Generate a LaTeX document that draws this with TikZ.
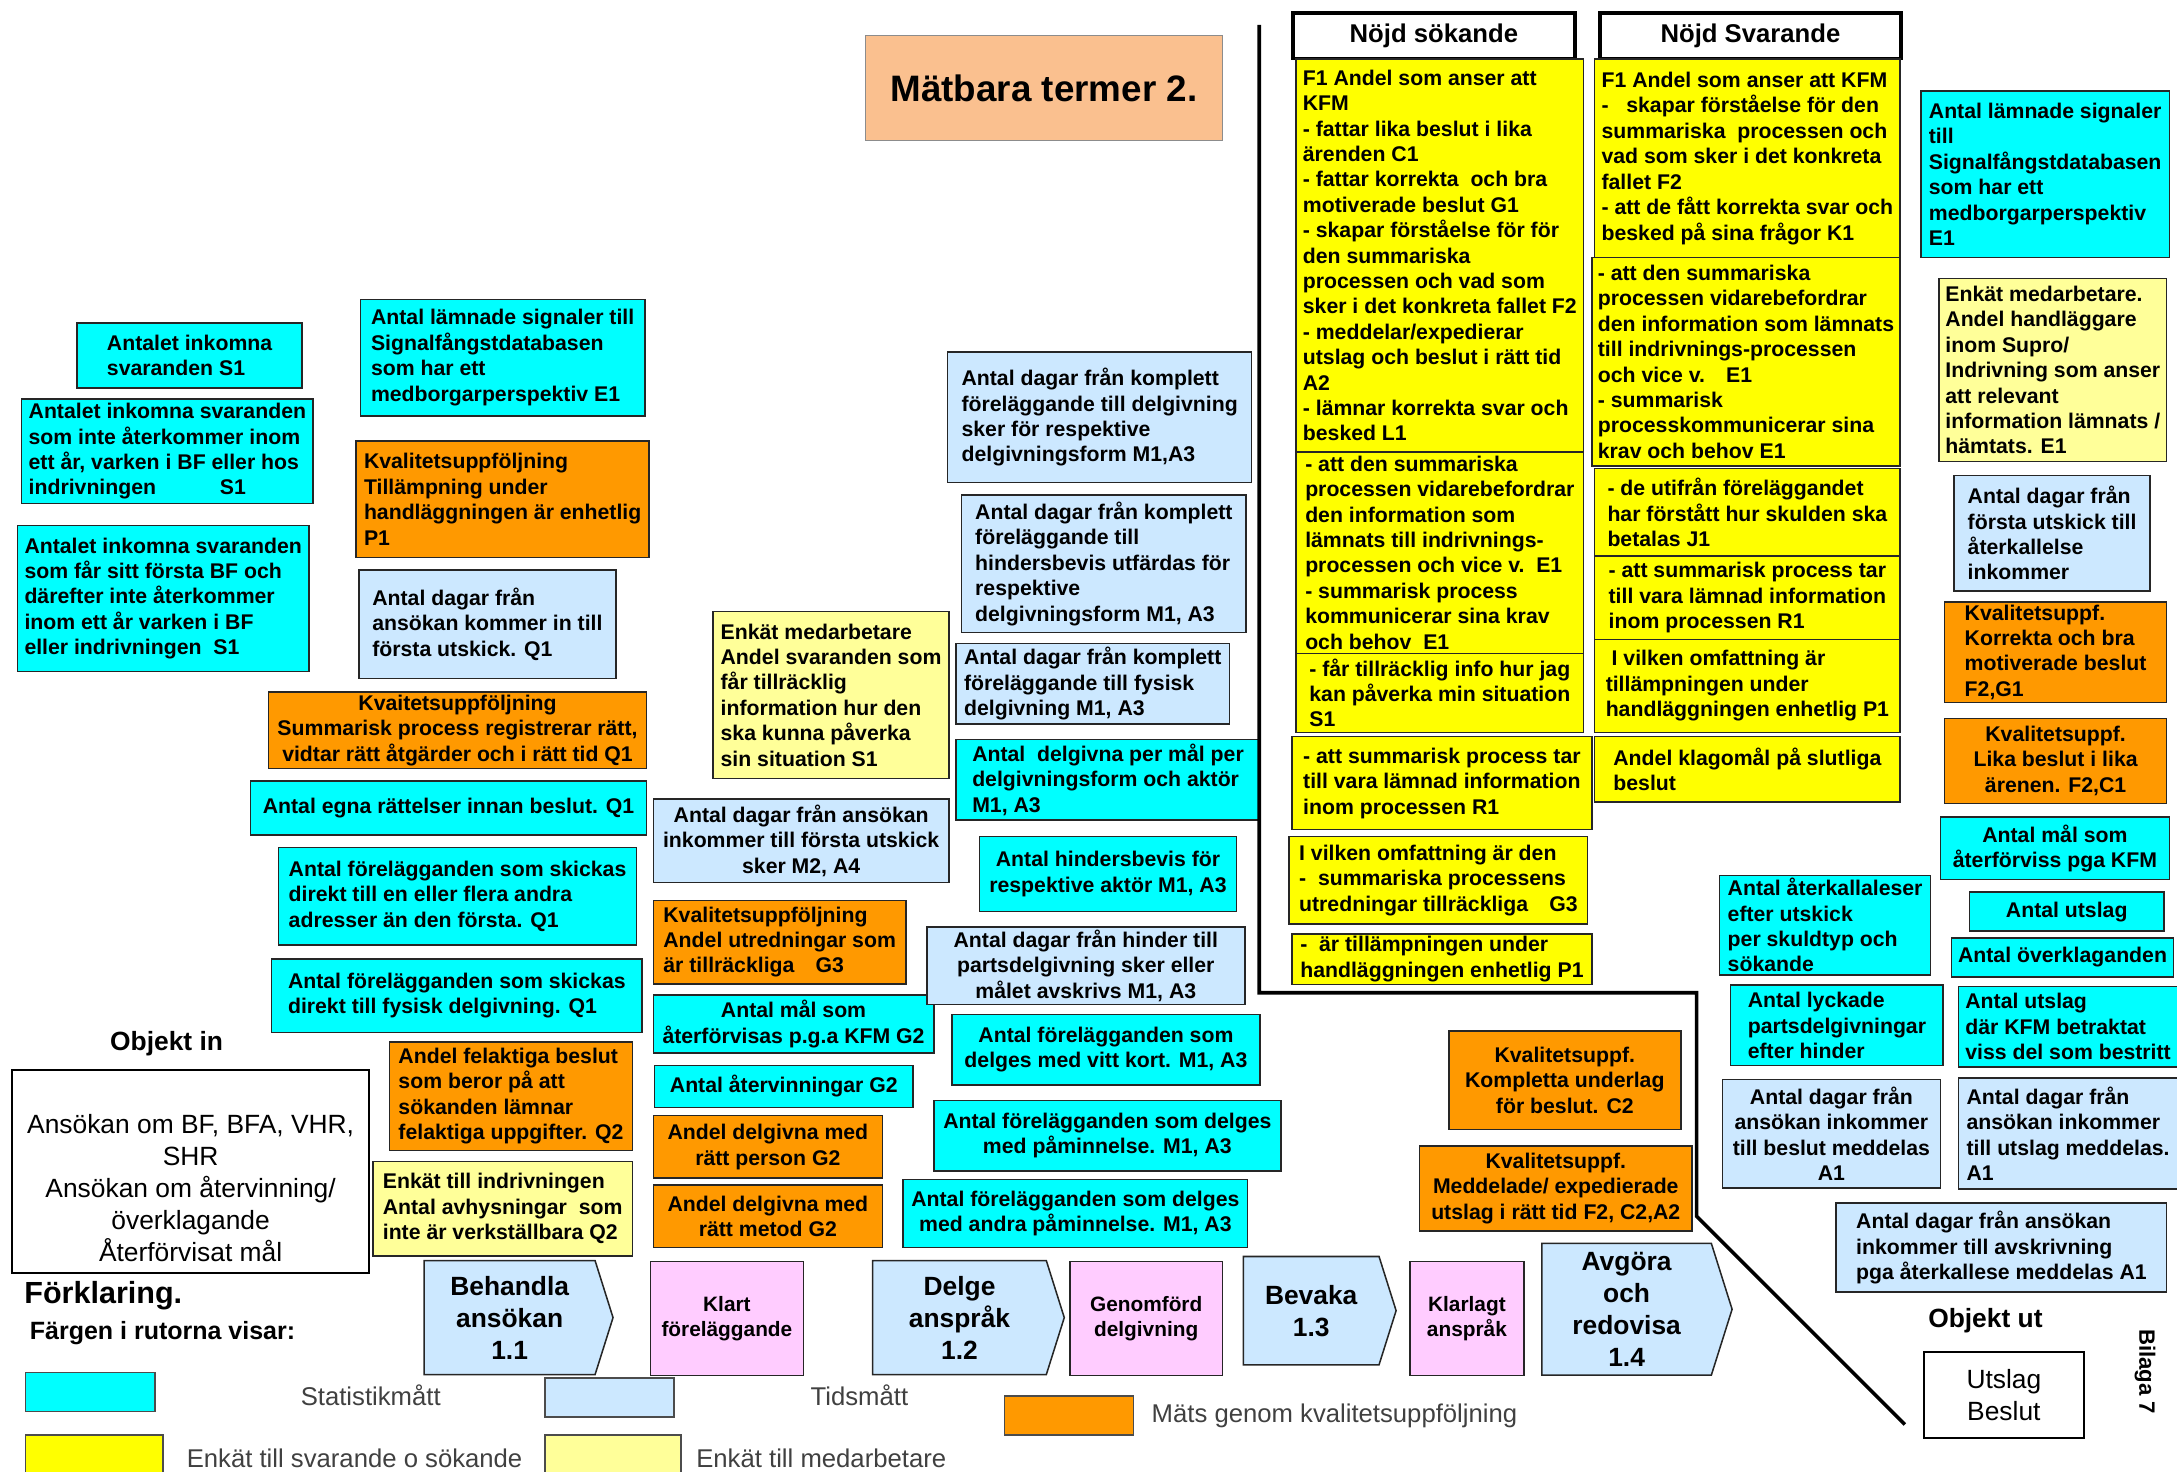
\documentclass[tikz,border=0pt]{standalone}
\usepackage{fontspec}
\setmainfont{Liberation Sans}
\usetikzlibrary{shapes.symbols}
\definecolor{statc}{RGB}{0,255,255}
\definecolor{tidc}{RGB}{204,232,255}
\definecolor{kvalc}{RGB}{255,153,0}
\definecolor{enkc}{RGB}{255,255,0}
\definecolor{enkmc}{RGB}{255,255,153}
\definecolor{pinkc}{RGB}{255,204,255}
\definecolor{peachc}{RGB}{250,192,143}
\begin{document}
\begin{tikzpicture}[x=1pt,y=-1pt]

\tikzset{mbox/.style = {draw=black!85, line width=1.1pt, anchor=north west, inner sep=2pt, align=left, font=\bfseries\fontsize{15.3}{18.3}\selectfont}}
\tikzset{wh/.style 2 args = {minimum width=#1pt, minimum height=#2pt}}
\tikzset{stat/.style = {mbox, fill=statc}}
\tikzset{tid/.style = {mbox, fill=tidc}}
\tikzset{kval/.style = {mbox, fill=kvalc}}
\tikzset{enk/.style = {mbox, fill=enkc}}
\tikzset{enkm/.style = {mbox, fill=enkmc}}
\tikzset{proc/.style = {shape=signal, signal to=east, signal pointer angle=145, draw=black!85, line width=1.1pt, fill=tidc, anchor=west, align=center, inner sep=1pt, font=\bfseries\fontsize{19}{23}\selectfont}}
\tikzset{res/.style = {mbox, fill=pinkc, align=center, font=\bfseries\fontsize{15}{18}\selectfont}}
\tikzset{head/.style = {draw, line width=2.5pt, fill=white, anchor=north west, inner sep=0pt, font=\bfseries\fontsize{18.5}{20}\selectfont}}
\tikzset{obj/.style = {draw, line width=1.6pt, fill=white, anchor=north west, align=center, font=\fontsize{19}{23}\selectfont}}
\tikzset{lbl/.style = {font=\bfseries\fontsize{19}{22}\selectfont}}
\tikzset{leg/.style = {text=black!75, font=\fontsize{18.5}{22}\selectfont}}
\tikzset{swatch/.style = {draw=black!70, line width=1pt, anchor=north west, minimum width=93pt, minimum height=28pt, inner sep=0pt}}

\useasboundingbox (0,0) rectangle (1568,1060);

% title
\node[draw=black!45, line width=0.8pt, fill=peachc, anchor=north west, minimum width=257pt, minimum height=76pt, font=\bfseries\fontsize{26.5}{30}\selectfont] (title) at (623,25) {Mätbara termer 2.};

% left boxes
\node[stat, wh={162}{47}] (s1) at (55,232) {Antalet inkomna\\svaranden S1};
\node[stat, wh={210}{75}] (s2) at (15,287) {Antalet inkomna svaranden\\som inte återkommer inom\\ett år, varken i BF eller hos\\indrivningen\hspace{3em}S1};
\node[stat, wh={210}{105}] (s3) at (12,378) {Antalet inkomna svaranden\\som får sitt första BF och\\därefter inte återkommer\\inom ett år varken i BF\\eller indrivningen\ \ S1};
\node[stat, wh={205}{84}] (e1a) at (259,215) {Antal lämnade signaler till\\Signalfångstdatabasen\\som har ett\\medborgarperspektiv E1};
\node[kval, wh={211}{84}] (p1a) at (256,317) {Kvalitetsuppföljning\\Tillämpning under\\handläggningen är enhetlig\\P1};
\node[tid, wh={185}{78}] (q1t) at (258,410) {Antal dagar från\\ansökan kommer in till\\första utskick. Q1};
\node[kval, wh={272}{55}, align=center] (q1k) at (193,498) {Kvaitetsuppföljning\\Summarisk process registrerar rätt,\\vidtar rätt åtgärder och i rätt tid Q1};
\node[stat, wh={285}{39}] (q1a) at (180,562) {Antal egna rättelser innan beslut. Q1};
\node[stat, wh={258}{70}] (q1b) at (200,610) {Antal förelägganden som skickas\\direkt till en eller flera andra\\adresser än den första. Q1};
\node[stat, wh={267}{53}] (q1c) at (195,690) {Antal förelägganden som skickas\\direkt till fysisk delgivning. Q1};
\node[kval, wh={175}{78}] (q2k) at (280,750) {Andel felaktiga beslut\\som beror på att\\sökanden lämnar\\felaktiga uppgifter. Q2};
\node[enkm, wh={187}{68}] (q2e) at (268,836) {Enkät till indrivningen\\Antal avhysningar\ \ som\\inte är verkställbara Q2};

% middle boxes
\node[enkm, wh={170}{120}] (s1e) at (513,440) {Enkät medarbetare\\Andel svaranden som\\får tillräcklig\\information hur den\\ska kunna påverka\\sin situation S1};
\node[tid, wh={213}{60}, align=center] (m2t) at (470,575) {Antal dagar från ansökan\\inkommer till första utskick\\sker M2, A4};
\node[kval, wh={182}{60}] (g3k) at (470,648) {Kvalitetsuppföljning\\Andel utredningar som\\är tillräckliga\hspace{1em}G3};
\node[stat, wh={202}{42}, align=center] (g2a) at (470,716) {Antal mål som\\återförvisas p.g.a KFM G2};
\node[stat, wh={186}{30}, align=center] (g2b) at (471,767) {Antal återvinningar G2};
\node[kval, wh={165}{45}, align=center] (g2c) at (470,803) {Andel delgivna med\\rätt person G2};
\node[kval, wh={165}{45}, align=center] (g2d) at (470,853) {Andel delgivna med\\rätt metod G2};
\node[tid, wh={219}{94}] (m1a) at (682,253) {Antal dagar från komplett\\föreläggande till delgivning\\sker för respektive\\delgivningsform M1,A3};
\node[tid, wh={205}{99}] (m1b) at (692,356) {Antal dagar från komplett\\föreläggande till\\hindersbevis utfärdas för\\respektive\\delgivningsform M1, A3};
\node[tid, wh={197}{58}] (m1c) at (688,463) {Antal dagar från komplett\\föreläggande till fysisk\\delgivning M1, A3};
\node[stat, wh={219}{58}] (m1d) at (688,532) {Antal\ \ delgivna per mål per\\delgivningsform och aktör\\M1, A3};
\node[stat, wh={185}{54}, align=center] (m1e) at (705,602) {Antal hindersbevis för\\respektive aktör M1, A3};
\node[tid, wh={229}{56}, align=center] (m1f) at (667,667) {Antal dagar från hinder till\\partsdelgivning sker eller\\målet avskrivs M1, A3};
\node[stat, wh={222}{51}, align=center] (m1g) at (685,730) {Antal förelägganden som\\delges med vitt kort. M1, A3};
\node[stat, wh={250}{51}, align=center] (m1h) at (672,792) {Antal förelägganden som delges\\med påminnelse. M1, A3};
\node[stat, wh={248}{49}, align=center] (m1i) at (650,849) {Antal förelägganden som delges\\med andra påminnelse. M1, A3};

% Nöjd sökande
\node[head, wh={203}{33}] (hs) at (930,8) {Nöjd sökande};
\node[enk, wh={207}{283}] (a1) at (933,42) {F1 Andel som anser att\\KFM\\- fattar lika beslut i lika\\ärenden C1\\- fattar korrekta\ \ och bra\\motiverade beslut G1\\- skapar förståelse för för\\den summariska\\processen och vad som\\sker i det konkreta fallet F2\\- meddelar/expedierar\\utslag och beslut i rätt tid\\A2\\- lämnar korrekta svar och\\besked L1};
\node[enk, wh={207}{145}] (a2) at (933,325) {- att den summariska\\processen vidarebefordrar\\den information som\\lämnats till indrivnings-\\processen och vice v.\ \ E1\\- summarisk process\\kommunicerar sina krav\\och behov\ \ E1};
\node[enk, wh={207}{57}] (a3) at (933,470) {- får tillräcklig info hur jag\\kan påverka min situation\\S1};
\node[enk, wh={216}{67}] (a4) at (930,530) {- att summarisk process tar\\till vara lämnad information\\inom processen R1};
\node[enk, wh={215}{63}] (a5) at (928,602) {I vilken omfattning är den\\-\ \ summariska processens\\utredningar tillräckliga\hspace{1em}G3};
\node[enk, wh={216}{35}] (a6) at (930,672) {-\ \ är tillämpningen under\\handläggningen enhetlig P1};

% Nöjd Svarande
\node[head, wh={217}{33}] (hv) at (1151,8) {Nöjd Svarande};
\node[enk, wh={220}{143}] (b1) at (1148,42) {F1 Andel som anser att KFM\\-\ \ \ skapar förståelse för den\\summariska\ \ processen och\\vad som sker i det konkreta\\fallet F2\\- att de fått korrekta svar och\\besked på sina frågor K1};
\node[enk, wh={222}{150}] (b2) at (1146,185) {- att den summariska\\processen vidarebefordrar\\den information som lämnats\\till indrivnings-processen\\och vice v.\hspace{1em}E1\\- summarisk\\processkommunicerar sina\\krav och behov E1};
\node[enk, wh={220}{63}] (b3) at (1148,337) {- de utifrån föreläggandet\\har förstått hur skulden ska\\betalas J1};
\node[enk, wh={220}{60}] (b4) at (1148,400) {- att summarisk process tar\\till vara lämnad information\\inom processen R1};
\node[enk, wh={220}{67}] (b5) at (1148,460) {\ I vilken omfattning är\\tillämpningen under\\handläggningen enhetlig P1};
\node[enk, wh={220}{47}] (b6) at (1148,530) {Andel klagomål på slutliga\\beslut};

% right boxes
\node[stat, wh={179}{120}] (r1) at (1383,65) {Antal lämnade signaler\\till\\Signalfångstdatabasen\\som har ett\\medborgarperspektiv\\E1};
\node[enkm, wh={164}{132}] (r2) at (1396,200) {Enkät medarbetare.\\Andel handläggare\\inom Supro/\\Indrivning som anser\\att relevant\\information lämnats /\\hämtats. E1};
\node[tid, wh={141}{83}] (r3) at (1407,342) {Antal dagar från\\första utskick till\\återkallelse\\inkommer};
\node[kval, wh={160}{72}] (r4) at (1400,433) {Kvalitetsuppf.\\Korrekta och bra\\motiverade beslut\\F2,G1};
\node[kval, wh={160}{61}, align=center] (r5) at (1400,517) {Kvalitetsuppf.\\Lika beslut i lika\\ärenen. F2,C1};
\node[stat, wh={165}{45}, align=center] (r6) at (1397,588) {Antal mål som\\återförviss pga KFM};
\node[stat, wh={140}{28}, align=center] (r7) at (1418,642) {Antal utslag};
\node[stat, wh={160}{28}] (r8) at (1405,675) {Antal överklaganden};
\node[stat, wh={158}{58}] (r9) at (1410,710) {Antal utslag\\där KFM betraktat\\viss del som bestritt};
\node[tid, wh={158}{80}] (r10) at (1410,776) {Antal dagar från\\ansökan inkommer\\till utslag meddelas.\\A1};

% middle right boxes
\node[stat, wh={152}{70}] (c1) at (1238,630) {Antal återkallaleser\\efter utskick\\per skuldtyp och\\sökande};
\node[stat, wh={153}{58}] (c2) at (1246,709) {Antal lyckade\\partsdelgivningar\\efter hinder};
\node[tid, wh={157}{78}, align=center] (c3) at (1240,777) {Antal dagar från\\ansökan inkommer\\till beslut meddelas\\A1};
\node[tid, wh={238}{64}] (c4) at (1322,866) {Antal dagar från ansökan\\inkommer till avskrivning\\pga återkallese meddelas A1};
\node[kval, wh={167}{71}, align=center] (k1) at (1043,742) {Kvalitetsuppf.\\Kompletta underlag\\för beslut. C2};
\node[kval, wh={196}{61}, align=center] (k2) at (1022,825) {Kvalitetsuppf.\\Meddelade/ expedierade\\utslag i rätt tid F2, C2,A2};

% process
\node[proc, wh={136}{82}] (pb1) at (305,949) {Behandla\\ansökan\\1.1};
\node[res, wh={110}{82}] (pk1) at (468,908) {Klart\\föreläggande};
\node[proc, wh={138}{82}] (pb2) at (628,949) {Delge\\anspråk\\1.2};
\node[res, wh={110}{82}] (pk2) at (770,908) {Genomförd\\delgivning};
\node[proc, wh={110}{78}] (pb3) at (895,944) {Bevaka\\1.3};
\node[res, wh={82}{82}] (pk3) at (1015,908) {Klarlagt\\anspråk};
\node[proc, wh={137}{95}] (pb4) at (1110,943) {Avgöra\\och\\redovisa\\1.4};

% objects
\node[lbl] (oin) at (120,752) {Objekt in};
\node[obj, wh={257}{146}] (objin) at (8,770) {\rule{0pt}{38pt}Ansökan om BF, BFA, VHR,\\SHR\\Ansökan om återvinning/\\överklagande\\Återförvisat mål};
\node[lbl] (out) at (1430,951) {Objekt ut};
\node[obj, wh={115}{62}] (objut) at (1385,973) {Utslag\\Beslut};
\node[lbl, font=\bfseries\fontsize{16}{18}\selectfont, rotate=-90] (bil) at (1545,988) {Bilaga 7};

% legend
\node[anchor=west, font=\bfseries\fontsize{22}{26}\selectfont] (fkl) at (14,933) {Förklaring.};
\node[anchor=west, font=\bfseries\fontsize{18}{22}\selectfont] (fgr) at (18,960) {Färgen i rutorna visar:};
\node[swatch, fill=statc] (w1) at (18,988) {};
\node[leg] (t1) at (267,1005) {Statistikmått};
\node[swatch, fill=tidc] (w2) at (392,992) {};
\node[leg] (t2) at (619,1005) {Tidsmått};
\node[swatch, fill=kvalc] (w3) at (723,1005) {};
\node[leg, anchor=west] (t3) at (826,1020) {Mäts genom kvalitetsuppföljning};
\node[swatch, fill=enkc, minimum width=99pt] (w4) at (18,1033) {};
\node[leg, anchor=west] (t4) at (131,1050) {Enkät till svarande o sökande};
\node[swatch, fill=enkmc, minimum width=98pt] (w5) at (392,1033) {};
\node[leg, anchor=west] (t5) at (498,1050) {Enkät till medarbetare};

% lines
\coordinate (v1) at (907,18);
\coordinate (v2) at (907,715);
\coordinate (v3) at (1222,715);
\coordinate (v4) at (1222,876);
\coordinate (v5) at (1372,1026);
\draw[line width=2.6pt] (v1) -- (v2) -- (v3) -- (v4) -- (v5);

\end{tikzpicture}
\end{document}
